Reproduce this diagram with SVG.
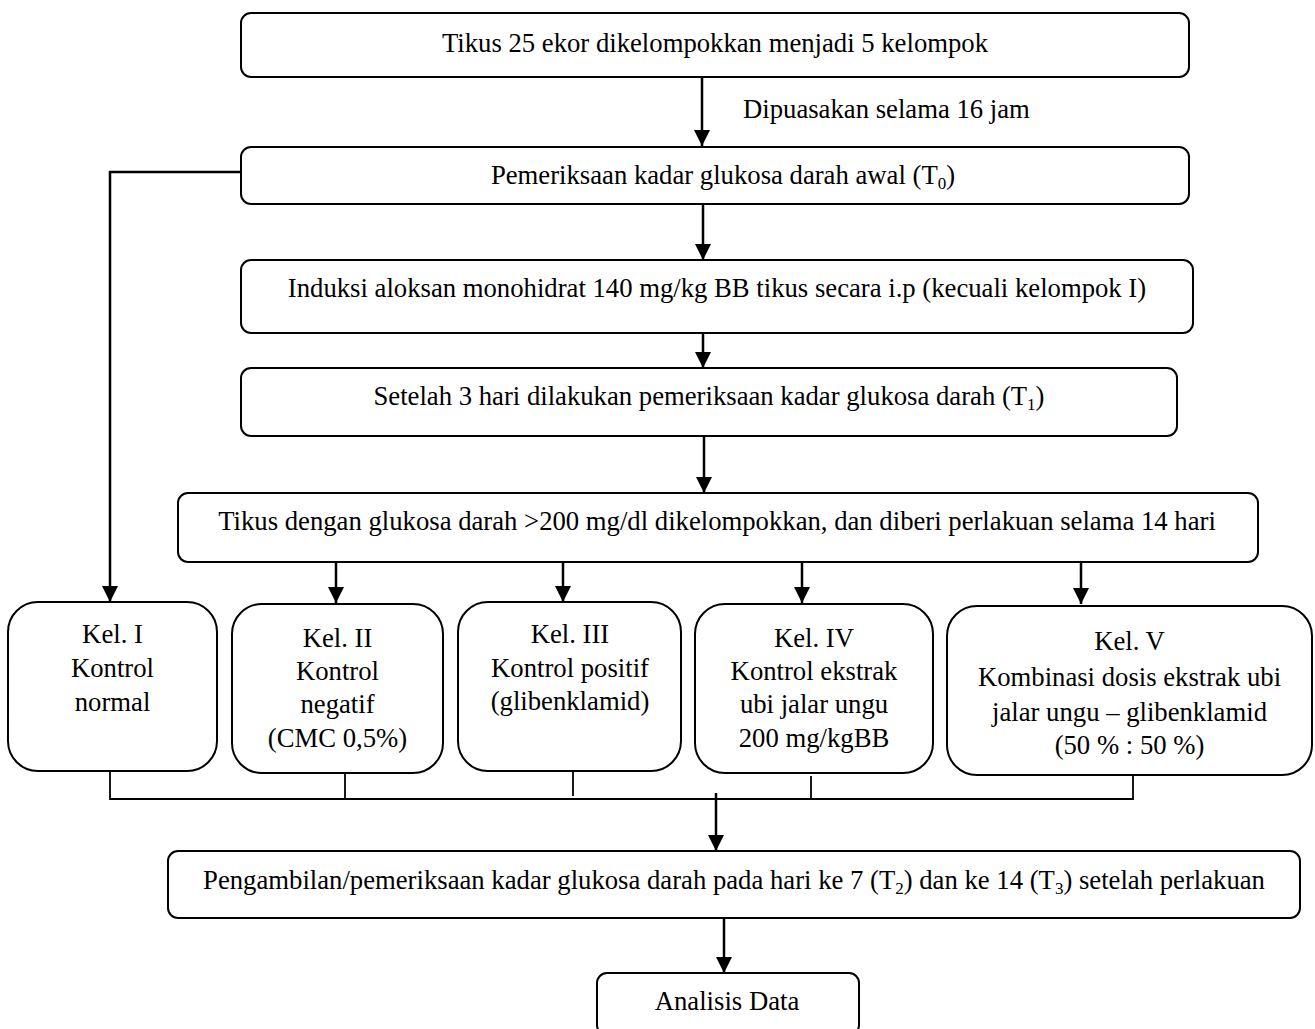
<svg xmlns="http://www.w3.org/2000/svg" width="1315" height="1029" viewBox="0 0 1315 1029">
<style>
.box{fill:#fff;stroke:#000;stroke-width:2}
.t{font-family:"Liberation Serif","Times New Roman",serif;font-size:26.7px;fill:#000}
.m{text-anchor:middle}
.sub{font-size:17px}
.c{fill:none;stroke:#000;stroke-width:2.5}
.b{fill:none;stroke:#000;stroke-width:1.8}
</style>
<defs>
<marker id="ah" markerUnits="userSpaceOnUse" markerWidth="16" markerHeight="16" refX="16" refY="8" orient="auto" viewBox="0 0 16 16">
<path d="M0,0 L16,8 L0,16 Z" fill="#000"/>
</marker>
</defs>
<g id="connectors">
<line class="c" x1="702" y1="77" x2="702" y2="146" marker-end="url(#ah)"/>
<line class="c" x1="703" y1="204" x2="703" y2="260" marker-end="url(#ah)"/>
<line class="c" x1="703" y1="333" x2="703" y2="368" marker-end="url(#ah)"/>
<line class="c" x1="704" y1="436" x2="704" y2="493" marker-end="url(#ah)"/>
<polyline class="c" points="241,172 110,172 110,602" marker-end="url(#ah)"/>
<line class="c" x1="336" y1="560" x2="336" y2="603" marker-end="url(#ah)"/>
<line class="c" x1="563" y1="560" x2="563" y2="602" marker-end="url(#ah)"/>
<line class="c" x1="802" y1="560" x2="802" y2="603" marker-end="url(#ah)"/>
<line class="c" x1="1081" y1="560" x2="1081" y2="604" marker-end="url(#ah)"/>
<polyline class="b" points="110,771 110,799 1133,799 1133,775"/>
<line class="b" x1="345" y1="773" x2="345" y2="799"/>
<line class="b" x1="573" y1="771" x2="573" y2="796"/>
<line class="b" x1="811" y1="776" x2="811" y2="799"/>
<line class="c" x1="716" y1="793" x2="716" y2="851" marker-end="url(#ah)"/>
<line class="c" x1="724" y1="918" x2="724" y2="973" marker-end="url(#ah)"/>
</g>
<text class="t" x="743" y="118">Dipuasakan selama 16 jam</text>
<g id="n1">
<rect class="box" x="241" y="13" width="948" height="64" rx="10"/>
<text class="t m" x="715" y="52">Tikus 25 ekor dikelompokkan menjadi 5 kelompok</text>
</g>
<g id="n2">
<rect class="box" x="241" y="147" width="948" height="57" rx="10"/>
<text class="t m" x="723" y="184">Pemeriksaan kadar glukosa darah awal (T<tspan class="sub" dy="5">0</tspan><tspan dy="-5">)</tspan></text>
</g>
<g id="n3">
<rect class="box" x="241" y="260" width="952" height="73" rx="10"/>
<text class="t m" x="717" y="297">Induksi aloksan monohidrat 140 mg/kg BB tikus secara i.p (kecuali kelompok I)</text>
</g>
<g id="n4">
<rect class="box" x="241" y="368" width="936" height="68" rx="10"/>
<text class="t m" x="709" y="405">Setelah 3 hari dilakukan pemeriksaan kadar glukosa darah (T<tspan class="sub" dy="5">1</tspan><tspan dy="-5">)</tspan></text>
</g>
<g id="n5">
<rect class="box" x="178" y="493" width="1080" height="69" rx="10"/>
<text class="t m" x="717" y="530">Tikus dengan glukosa darah &gt;200 mg/dl dikelompokkan, dan diberi perlakuan selama 14 hari</text>
</g>
<g id="k1">
<rect class="box" x="8" y="602" width="209" height="169" rx="30"/>
<text class="t m"><tspan x="112.5" y="643">Kel. I</tspan><tspan x="112.5" y="677">Kontrol</tspan><tspan x="112.5" y="711">normal</tspan></text>
</g>
<g id="k2">
<rect class="box" x="232" y="604" width="211" height="169" rx="30"/>
<text class="t m"><tspan x="337.5" y="647">Kel. II</tspan><tspan x="337.5" y="680">Kontrol</tspan><tspan x="337.5" y="713">negatif</tspan><tspan x="337.5" y="747">(CMC 0,5%)</tspan></text>
</g>
<g id="k3">
<rect class="box" x="458" y="602" width="223" height="169" rx="30"/>
<text class="t m"><tspan x="570" y="643">Kel. III</tspan><tspan x="570" y="677">Kontrol positif</tspan><tspan x="570" y="710">(glibenklamid)</tspan></text>
</g>
<g id="k4">
<rect class="box" x="695" y="604" width="238" height="169" rx="30"/>
<text class="t m"><tspan x="814" y="647">Kel. IV</tspan><tspan x="814" y="680">Kontrol ekstrak</tspan><tspan x="814" y="713">ubi jalar ungu</tspan><tspan x="814" y="747">200 mg/kgBB</tspan></text>
</g>
<g id="k5">
<rect class="box" x="947" y="606" width="365" height="169" rx="30"/>
<text class="t m"><tspan x="1129.5" y="650">Kel. V</tspan><tspan x="1129.5" y="686">Kombinasi dosis ekstrak ubi</tspan><tspan x="1129.5" y="721">jalar ungu – glibenklamid</tspan><tspan x="1129.5" y="754">(50 % : 50 %)</tspan></text>
</g>
<g id="n6">
<rect class="box" x="168" y="851" width="1132" height="67" rx="10"/>
<text class="t m" x="734" y="889">Pengambilan/pemeriksaan kadar glukosa darah pada hari ke 7 (T<tspan class="sub" dy="5">2</tspan><tspan dy="-5">) dan ke 14 (T</tspan><tspan class="sub" dy="5">3</tspan><tspan dy="-5">) setelah perlakuan</tspan></text>
</g>
<g id="n7">
<rect class="box" x="597" y="973" width="262" height="62" rx="10"/>
<text class="t m" x="727" y="1010">Analisis Data</text>
</g>
</svg>
